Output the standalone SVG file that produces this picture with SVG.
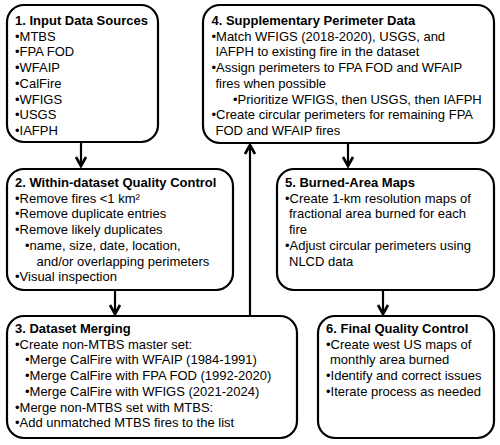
<svg xmlns="http://www.w3.org/2000/svg" width="500" height="445" viewBox="0 0 500 445">
<style>
  .box { fill: #ffffff; stroke: #000000; stroke-width: 2.2; }
  text { font-family: "Liberation Sans", Arial, sans-serif; font-size: 13px; fill: #000000; }
  .t { font-weight: bold; }
  .line { stroke: #000000; stroke-width: 2.2; fill: none; }
  .head { stroke: #000000; stroke-width: 2.6; fill: none; stroke-linejoin: miter; }
</style>
<rect width="500" height="445" fill="#ffffff"/>
<g id="connectors">
  <line class="line" x1="81" y1="142" x2="81" y2="166"/>
  <polyline class="head" points="76,157 81,166 86,157"/>
  <line class="line" x1="115" y1="290" x2="115" y2="314"/>
  <polyline class="head" points="110,305 115,314 120,305"/>
  <line class="line" x1="348" y1="143" x2="348" y2="166"/>
  <polyline class="head" points="343,157 348,166 353,157"/>
  <line class="line" x1="383" y1="290" x2="383" y2="314"/>
  <polyline class="head" points="378,305 383,314 388,305"/>
  <line class="line" x1="250" y1="316" x2="250" y2="145"/>
  <polyline class="head" points="245,154 250,145 255,154"/>
</g>
<g id="node1">
  <rect class="box" x="7" y="5" width="151" height="137" rx="17"/>
  <text class="t" x="15" y="25">1. Input Data Sources</text>
  <text x="15" y="40.7">•MTBS</text>
  <text x="15" y="56.4">•FPA FOD</text>
  <text x="15" y="72.1">•WFAIP</text>
  <text x="15" y="87.8">•CalFire</text>
  <text x="15" y="103.5">•WFIGS</text>
  <text x="15" y="119.2">•USGS</text>
  <text x="15" y="134.9">•IAFPH</text>
</g>
<g id="node2">
  <rect class="box" x="7" y="169" width="226" height="121" rx="17"/>
  <text class="t" x="15" y="187">2. Within-dataset Quality Control</text>
  <text x="15" y="202.7">•Remove fires &lt;1 km²</text>
  <text x="15" y="218.4">•Remove duplicate entries</text>
  <text x="15" y="234.1">•Remove likely duplicates</text>
  <text x="25" y="249.8">•name, size, date, location,</text>
  <text x="36.5" y="265.5">and/or overlapping perimeters</text>
  <text x="15" y="281.2">•Visual inspection</text>
</g>
<g id="node3">
  <rect class="box" x="7" y="316" width="290" height="122" rx="17"/>
  <text class="t" x="15" y="333">3. Dataset Merging</text>
  <text x="15" y="348.7">•Create non-MTBS master set:</text>
  <text x="25" y="364.4">•Merge CalFire with WFAIP (1984-1991)</text>
  <text x="25" y="380.1">•Merge CalFire with FPA FOD (1992-2020)</text>
  <text x="25" y="395.8">•Merge CalFire with WFIGS (2021-2024)</text>
  <text x="15" y="411.5">•Merge non-MTBS set with MTBS:</text>
  <text x="15" y="427.2">•Add unmatched MTBS fires to the list</text>
</g>
<g id="node4">
  <rect class="box" x="203" y="5" width="291" height="138" rx="17"/>
  <text class="t" x="211.5" y="25">4. Supplementary Perimeter Data</text>
  <text x="211.5" y="40.7">•Match WFIGS (2018-2020), USGS, and</text>
  <text x="215.5" y="56.4">IAFPH to existing fire in the dataset</text>
  <text x="211.5" y="72.1">•Assign perimeters to FPA FOD and WFAIP</text>
  <text x="215.5" y="87.8">fires when possible</text>
  <text x="233" y="103.5">•Prioritize WFIGS, then USGS, then IAFPH</text>
  <text x="211.5" y="119.2">•Create circular perimeters for remaining FPA</text>
  <text x="215.5" y="134.9">FOD and WFAIP fires</text>
</g>
<g id="node5">
  <rect class="box" x="277" y="169" width="217" height="121" rx="17"/>
  <text class="t" x="285" y="187">5. Burned-Area Maps</text>
  <text x="285" y="202.7">•Create 1-km resolution maps of</text>
  <text x="289" y="218.4">fractional area burned for each</text>
  <text x="289" y="234.1">fire</text>
  <text x="285" y="249.8">•Adjust circular perimeters using</text>
  <text x="289" y="265.5">NLCD data</text>
</g>
<g id="node6">
  <rect class="box" x="318" y="316" width="176" height="122" rx="17"/>
  <text class="t" x="326" y="333">6. Final Quality Control</text>
  <text x="326" y="348.7">•Create west US maps of</text>
  <text x="330" y="364.4">monthly area burned</text>
  <text x="326" y="380.1">•Identify and correct issues</text>
  <text x="326" y="395.8">•Iterate process as needed</text>
</g>
</svg>
